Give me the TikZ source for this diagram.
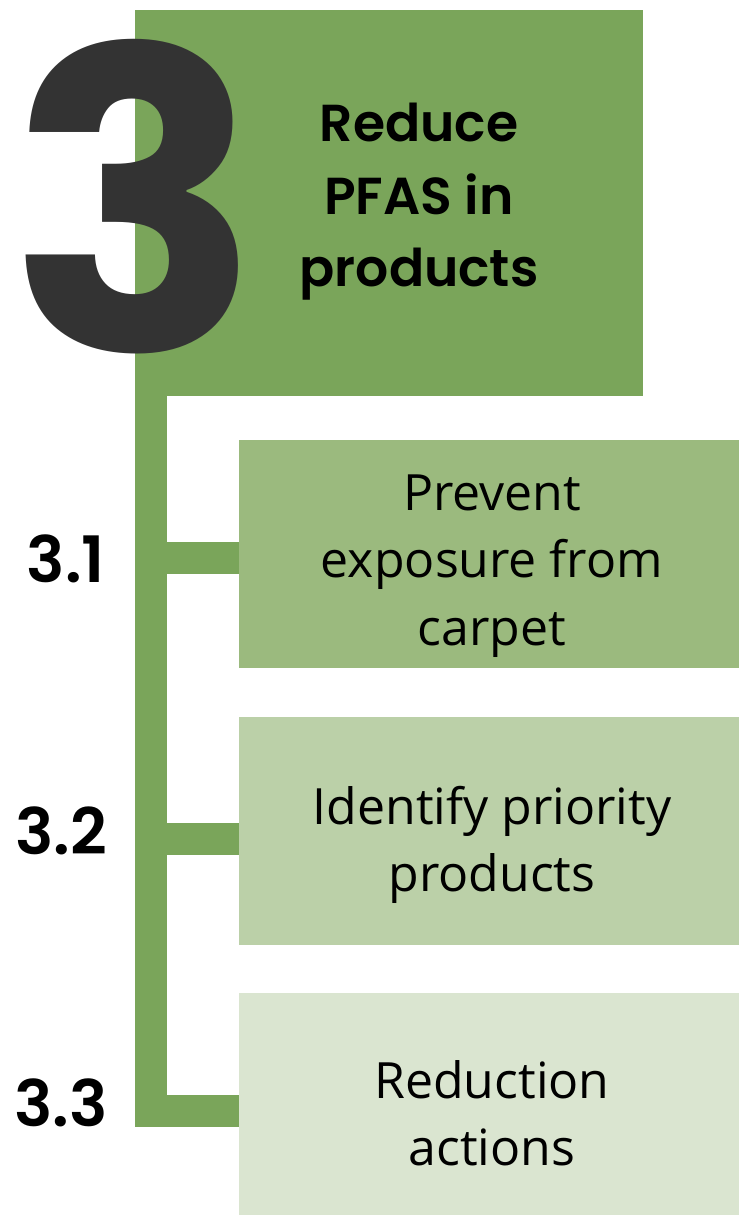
\documentclass[tikz,border=0pt]{standalone}
\usepackage{fontspec}
\setmainfont{Open Sans}
\newfontfamily\popfont{Poppins}
\newfontfamily\popsemi{Poppins SemiBold}
\definecolor{gA}{HTML}{7AA55A}
\definecolor{gB}{HTML}{9BBA7E}
\definecolor{gC}{HTML}{BBD0A8}
\definecolor{gD}{HTML}{DAE5D0}
\definecolor{dark}{HTML}{333333}
\tikzset{
  box/.style={rectangle, inner sep=0pt, outer sep=0pt, draw=none},
  trunk/.style={draw=gA, line width=32pt, line cap=butt, line join=miter},
  subtext/.style={align=center, inner sep=0pt, text=black, font=\fontsize{50}{67.5}\selectfont},
  numlabel/.style={inner sep=0pt, text=black, font=\popsemi\fontsize{64}{64}\selectfont}
}
\begin{document}
\begin{tikzpicture}[x=1pt,y=-1pt]
\useasboundingbox (0,0) rectangle (739,1215);
% top box
\node[box, fill=gA, minimum width=508pt, minimum height=386pt, anchor=north west] (top) at (135,10) {};
% sub boxes
\node[box, fill=gB, minimum width=500pt, minimum height=228pt, anchor=north west] (b1) at (239,440) {};
\node[box, fill=gC, minimum width=500pt, minimum height=228pt, anchor=north west] (b2) at (239,717) {};
\node[box, fill=gD, minimum width=500pt, minimum height=222pt, anchor=north west] (b3) at (239,993) {};
% connectors
\coordinate (t0) at (151,396);
\coordinate (j1) at (151,558);
\coordinate (j2) at (151,839);
\coordinate (j3) at (151,1111);
\draw[trunk] (t0) -- (j3) -- (j3 -| b3.west);
\draw[trunk] (j1) -- (j1 -| b1.west);
\draw[trunk] (j2) -- (j2 -| b2.west);
% big number
\node[inner sep=0pt, text=dark, font=\popfont\bfseries\fontsize{418}{418}\selectfont] (big) at (135,197) {3};
% title
\node[align=center, inner sep=0pt, text=black, font=\popsemi\fontsize{52}{72.5}\selectfont] (title) at (419,202) {Reduce\\PFAS in\\products};
% sub texts
\node[subtext] (s1) at (492,566) {Prevent\\exposure from\\carpet};
\node[subtext] (s2) at (492,845) {Identify priority\\products};
\node[subtext] (s3) at (492,1113) {Reduction\\actions};
% labels
\node[numlabel] (l1) at (66,559) {3.1};
\node[numlabel] (l2) at (61,831) {3.2};
\node[numlabel] (l3) at (61,1103) {3.3};
\end{tikzpicture}
\end{document}
